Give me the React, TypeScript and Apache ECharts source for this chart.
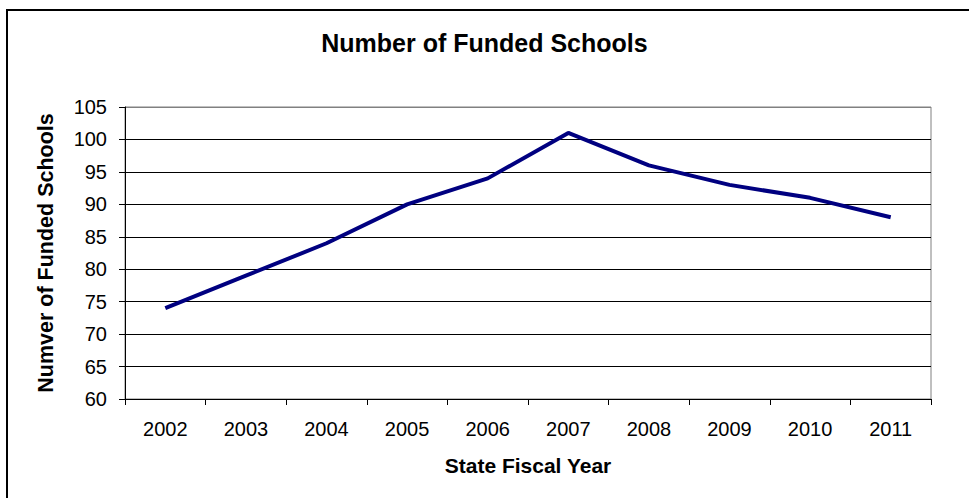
import React, { useEffect, useRef } from "react";
import * as echarts from "echarts";

const years = ["2002", "2003", "2004", "2005", "2006", "2007", "2008", "2009", "2010", "2011"];
const fundedSchools = [74, 79, 84, 90, 94, 101, 96, 93, 91, 88];
const yMin = 60;
const yMax = 105;
const yStep = 5;

export default function App() {
  const ref = useRef<HTMLDivElement>(null);
  useEffect(() => {
    if (!ref.current) return;
    const chart = echarts.init(ref.current, null, { renderer: "svg" });
    const font = "'Liberation Sans', Arial, sans-serif";
    const splitColors = ["#000", "#000", "#000", "#000", "#000", "#000", "#000", "#000", "#000", "#808080"];
    chart.setOption({
      animation: false,
      backgroundColor: "#fff",
      title: {
        text: "Number of Funded Schools",
        left: "center",
        top: 25,
        textStyle: { fontFamily: font, fontSize: 25, fontWeight: "bold", color: "#000" },
      },
      graphic: [
        {
          type: "rect",
          shape: { x: 7, y: 10, width: 1000, height: 600 },
          style: { fill: "none", stroke: "#000", lineWidth: 2 },
          silent: true,
        },
      ],
      grid: {
        left: 125,
        right: 38,
        top: 107,
        bottom: 99,
        show: true,
        borderColor: "#808080",
        borderWidth: 1,
        backgroundColor: "transparent",
      },
      xAxis: {
        type: "category",
        data: years,
        boundaryGap: true,
        name: "State Fiscal Year",
        nameLocation: "middle",
        nameGap: 56,
        nameTextStyle: { fontFamily: font, fontSize: 21, fontWeight: "bold", color: "#000" },
        axisLine: { show: true, lineStyle: { color: "#000", width: 1 } },
        axisTick: { show: true, length: 6, alignWithLabel: false, lineStyle: { color: "#000" } },
        axisLabel: { fontFamily: font, fontSize: 20, color: "#000", margin: 20, interval: 0 },
        splitLine: { show: false },
      },
      yAxis: {
        type: "value",
        min: yMin,
        max: yMax,
        interval: yStep,
        name: "Numver of Funded Schools",
        nameLocation: "middle",
        nameGap: 68,
        nameTextStyle: { fontFamily: font, fontSize: 21.5, fontWeight: "bold", color: "#000" },
        axisLine: { show: true, lineStyle: { color: "#000", width: 1 } },
        axisTick: { show: true, length: 6, lineStyle: { color: "#000" } },
        axisLabel: { fontFamily: font, fontSize: 20, color: "#000", margin: 18 },
        splitLine: { show: true, lineStyle: { color: splitColors, width: 1 } },
      },
      series: [
        {
          type: "line",
          data: fundedSchools,
          showSymbol: false,
          symbol: "none",
          lineStyle: { color: "#000080", width: 4 },
          itemStyle: { color: "#000080" },
        },
      ],
    });
    return () => chart.dispose();
  }, []);
  return (
    <div
      ref={ref}
      style={{ position: "absolute", left: 0, top: 0, width: 969, height: 498 }}
    />
  );
}
